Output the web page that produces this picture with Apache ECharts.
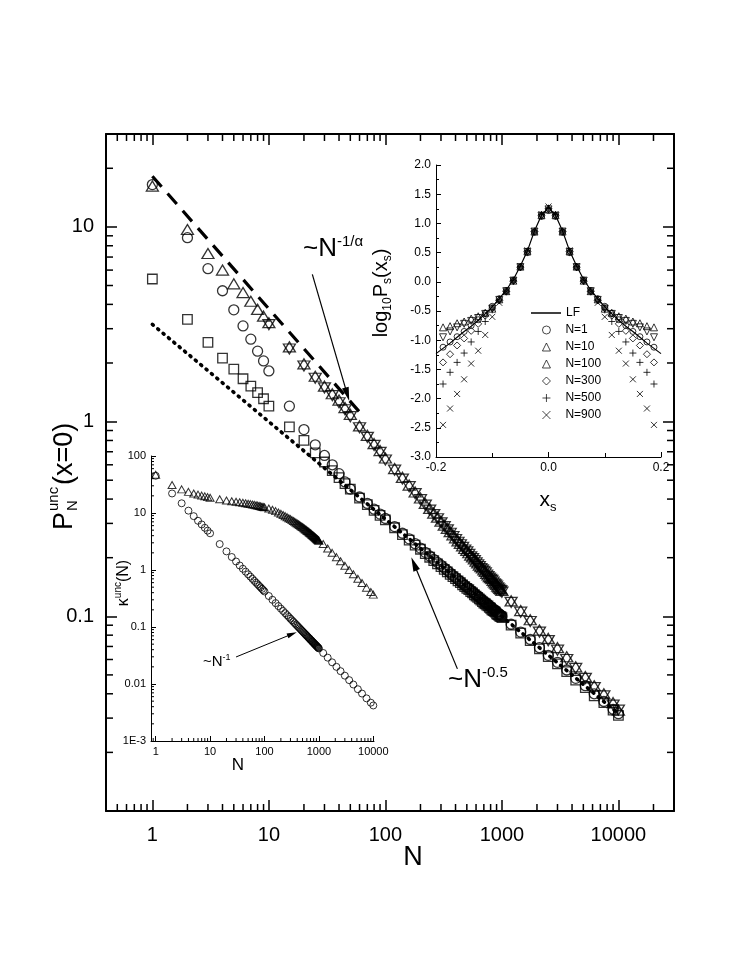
<!DOCTYPE html>
<html><head><meta charset="utf-8">
<script src="https://cdn.jsdelivr.net/npm/echarts@6/dist/echarts.min.js"></script>
<style>html,body{margin:0;padding:0;background:#fff}#c{width:733px;height:958px}</style>
</head><body><div id="c"></div>
<script>
// ---------------- MAIN PLOT DATA ----------------
const N_MAIN = [1,2,3,4,5,6,7,8,9,10,15,20,25,30,35,40,45,50,60,70,80,90,100,
 120,140,160,180,200,220,240,260,280,300,320,340,360,380,400,420,440,460,480,500,520,540,560,580,600,620,640,660,680,700,720,740,760,780,800,820,840,860,880,900,920,940,960,980,1000,
 1200,1450,1750,2100,2500,3000,3600,4300,5200,6200,7500,9000,10000];
const P_TRI_UP = [16.2,9.7,7.3,6.0,5.1,4.6,4.15,3.77,3.48,3.22,
 2.42,1.98,1.71,1.52,1.39,1.29,1.18,1.09,0.95,0.85,0.77,0.71,0.65,
 0.574,0.517,0.472,0.435,0.405,0.380,0.358,0.339,0.323,0.308,0.294,0.283,0.272,0.262,0.253,0.244,0.237,0.230,0.223,0.218,0.212,0.206,0.202,0.197,0.192,0.188,0.183,0.180,0.177,0.173,0.170,0.166,0.163,0.160,0.158,0.156,0.153,0.150,0.148,0.146,0.143,0.141,0.139,0.138,0.136,
 0.120,0.107,0.096,0.085,0.077,0.069,0.062,0.055,0.049,0.044,0.040,0.036,0.033];
const P_TRI_DOWN = [null,null,null,null,null,null,null,null,null,3.15,
 2.36,1.93,1.67,1.49,1.36,1.25,1.15,1.06,0.93,0.83,0.755,0.695,0.635,
 0.563,0.507,0.463,0.427,0.397,0.372,0.351,0.333,0.317,0.302,0.289,0.278,0.267,0.257,0.248,0.240,0.233,0.226,0.219,0.214,0.208,0.202,0.198,0.193,0.188,0.184,0.180,0.176,0.173,0.170,0.167,0.163,0.160,0.157,0.155,0.153,0.150,0.147,0.145,0.143,0.140,0.138,0.136,0.135,0.133,
 0.118,0.105,0.094,0.083,0.075,0.067,0.060,0.054,0.048,0.043,0.039,0.035,0.033];
const P_CIRCLE = [16.5,8.8,6.1,4.7,3.75,3.1,2.65,2.3,2.05,1.82,
 1.2,0.91,0.76,0.67,0.6,0.54,0.49,0.45,0.41,0.38,0.355,0.335,0.318,
 0.289,0.267,0.250,0.236,0.224,0.213,0.204,0.196,0.189,0.183,0.177,0.172,0.167,0.162,0.158,0.154,0.151,0.147,0.144,0.141,0.139,0.136,0.134,0.131,0.129,0.127,0.125,0.123,0.121,0.119,0.118,0.116,0.115,0.113,0.112,0.110,0.109,0.108,0.107,0.105,0.104,0.103,0.102,0.101,0.100,
 0.091,0.083,0.076,0.069,0.063,0.058,0.053,0.048,0.044,0.040,0.0365,0.0333,0.0316];
const P_SQUARE = [5.4,3.35,2.55,2.12,1.86,1.66,1.52,1.41,1.31,1.2,
 0.94,0.8,0.69,0.62,0.56,0.515,0.48,0.45,0.405,0.375,0.35,0.33,0.313,
 0.285,0.263,0.246,0.232,0.221,0.210,0.201,0.193,0.186,0.180,0.174,0.169,0.164,0.160,0.156,0.152,0.149,0.145,0.142,0.139,0.137,0.134,0.132,0.129,0.127,0.125,0.123,0.121,0.119,0.117,0.116,0.114,0.113,0.111,0.110,0.108,0.107,0.106,0.105,0.103,0.102,0.101,0.100,0.0995,0.0985,
 0.090,0.082,0.075,0.068,0.062,0.057,0.052,0.047,0.043,0.039,0.036,0.033,0.031];
// guide lines  ~N^-1/alpha (dashed) and ~N^-0.5 (dotted)
const GUIDE_ALPHA_N = [1, 60];
const GUIDE_ALPHA_P = [18.2, 1.12];
const GUIDE_HALF_N = [1, 10000];
const GUIDE_HALF_P = [3.16, 0.0316];
const MAIN_X_TICKS = [1,10,100,1000,10000];
const MAIN_X_LABELS = ['1','10','100','1000','10000'];
const MAIN_Y_TICKS = [0.01,0.1,1,10];
const MAIN_Y_LABELS = ['0.01','0.1','1','10'];

// ---------------- INSET 1 (log10 Ps vs xs) ----------------
const XS = [-0.1875,-0.175,-0.1625,-0.15,-0.1375,-0.125,-0.1125,-0.1,-0.0875,-0.075,-0.0625,-0.05,-0.0375,-0.025,-0.0125,0,
 0.0125,0.025,0.0375,0.05,0.0625,0.075,0.0875,0.1,0.1125,0.125,0.1375,0.15,0.1625,0.175,0.1875];
const XS_LF = [-0.2,-0.1875,-0.175,-0.1625,-0.15,-0.1375,-0.125,-0.1125,-0.1,-0.0875,-0.075,-0.0625,-0.05,-0.0375,-0.025,-0.0125,0,
 0.0125,0.025,0.0375,0.05,0.0625,0.075,0.0875,0.1,0.1125,0.125,0.1375,0.15,0.1625,0.175,0.1875,0.2];
const PS_LF = [-1.23,-1.14,-1.05,-0.95,-0.85,-0.76,-0.66,-0.55,-0.43,-0.29,-0.14,0.04,0.27,0.53,0.87,1.14,1.27,1.14,0.87,0.53,0.27,0.04,-0.14,-0.29,-0.43,-0.55,-0.66,-0.76,-0.85,-0.95,-1.05,-1.14,-1.23];
const PS_N1 = [-1.12,-1.03,-0.94,-0.85,-0.75,-0.65,-0.54,-0.42,-0.29,-0.15,0.03,0.25,0.50,0.85,1.12,1.22,1.12,0.85,0.50,0.25,0.03,-0.15,-0.29,-0.42,-0.54,-0.65,-0.75,-0.85,-0.94,-1.03,-1.12];
const PS_N10 = [-0.78,-0.76,-0.71,-0.68,-0.63,-0.59,-0.53,-0.46,-0.30,-0.16,0.02,0.26,0.52,0.86,1.14,1.24,1.14,0.86,0.52,0.26,0.02,-0.16,-0.30,-0.46,-0.53,-0.59,-0.63,-0.68,-0.71,-0.76,-0.78];
const PS_N100 = [-0.95,-0.85,-0.78,-0.72,-0.67,-0.62,-0.55,-0.46,-0.31,-0.16,0.02,0.25,0.51,0.86,1.13,1.24,1.13,0.86,0.51,0.25,0.02,-0.16,-0.31,-0.46,-0.55,-0.62,-0.67,-0.72,-0.78,-0.85,-0.95];
const PS_N300 = [-1.38,-1.24,-1.09,-0.97,-0.84,-0.72,-0.58,-0.45,-0.32,-0.17,0.01,0.25,0.52,0.86,1.14,1.25,1.14,0.86,0.52,0.25,0.01,-0.17,-0.32,-0.45,-0.58,-0.72,-0.84,-0.97,-1.09,-1.24,-1.38];
const PS_N500 = [-1.75,-1.55,-1.38,-1.22,-1.03,-0.85,-0.68,-0.48,-0.31,-0.16,0.02,0.26,0.53,0.87,1.15,1.26,1.15,0.87,0.53,0.26,0.02,-0.16,-0.31,-0.48,-0.68,-0.85,-1.03,-1.22,-1.38,-1.55,-1.75];
const PS_N900 = [-2.45,-2.17,-1.92,-1.67,-1.40,-1.18,-0.91,-0.60,-0.36,-0.17,0.02,0.27,0.54,0.87,1.16,1.29,1.16,0.87,0.54,0.27,0.02,-0.17,-0.36,-0.60,-0.91,-1.18,-1.40,-1.67,-1.92,-2.17,-2.45];
const INSET1_LINE_NAMES = ['LF'];
const INSET1_SYMBOL_NAMES = ['N=1','N=10','N=100','N=300','N=500','N=900'];

// ---------------- INSET 2 (kappa vs N) ----------------
const N_INSET = [1,2,3,4,5,6,7,8,9,10,15,20,25,30,35,40,45,50,55,60,65,70,75,80,85,90,95,100,
 120,140,160,180,200,220,240,260,280,300,320,340,360,380,400,420,440,460,480,500,520,540,560,580,600,620,640,660,680,700,720,740,760,780,800,820,840,860,880,900,920,940,960,980,1000,
 1200,1450,1750,2100,2500,3000,3600,4300,5200,6200,7500,9000,10000];
const K_TRI = [47,31,26,23.5,22,21,20.2,19.6,19,18.5,
 17.4,16.6,16.1,15.7,15.4,15.1,14.8,14.5,14.3,14.1,13.9,13.7,13.5,13.3,13.1,12.9,12.75,12.6,
 12.0,11.4,10.8,10.2,9.7,9.25,8.8,8.45,8.1,7.8,7.5,7.25,7.0,6.75,6.55,6.35,6.15,5.95,5.8,5.65,5.5,5.35,5.2,5.07,4.95,4.83,4.72,4.61,4.5,4.4,4.3,4.2,4.11,4.02,3.94,3.86,3.78,3.71,3.64,3.57,3.5,3.44,3.38,3.32,3.27,
 2.85,2.38,2.0,1.68,1.42,1.19,1.0,0.84,0.70,0.59,0.49,0.41,0.37];
const K_CIRCLE = [45,22,14.8,11,8.8,7.3,6.3,5.5,4.9,4.4,
 2.85,2.12,1.69,1.41,1.2,1.05,0.935,0.84,0.765,0.70,0.645,0.60,0.56,0.525,0.495,0.467,0.442,0.42,
 0.35,0.30,0.2625,0.233,0.21,0.191,0.175,0.1615,0.15,0.14,0.131,0.1235,0.1167,0.1105,0.105,0.1,0.0955,0.0913,0.0875,0.084,0.0808,0.0778,0.075,0.0724,0.07,0.0677,0.0656,0.0636,0.0618,0.06,0.0583,0.0568,0.0553,0.0538,0.0525,0.0512,0.05,0.0488,0.0477,0.0467,0.0457,0.0447,0.0438,0.0429,0.042,
 0.035,0.029,0.024,0.02,0.0168,0.014,0.0117,0.0098,0.0081,0.0068,0.0056,0.0047,0.0042];
const INSET_X_TICKS = [1,10,100,1000,10000];
const INSET_X_LABELS = ['1','10','100','1000','10000'];
const INSET_Y_TICKS = [0.001,0.01,0.1,1,10,100];
const INSET_Y_LABELS = ['1E-3','0.01','0.1','1','10','100'];
const MINOR_MULT = [2,3,4,5,6,7,8,9];

// ---------------- helpers ----------------
const FONT = '"Liberation Sans", Arial, Helvetica, sans-serif';
function zip(xs, ys) { const out = []; const n = Math.min(xs.length, ys.length);
  for (let i = 0; i < n; i++) if (ys[i] != null) out.push([xs[i], ys[i]]); return out; }
function labelFmt(ticks, labels) { return function (v) {
  for (let i = 0; i < ticks.length; i++) if (Math.abs(v - ticks[i]) <= ticks[i] * 1e-6) return labels[i];
  return ''; }; }
function minorVals(lo, hi) { const out = [];
  for (let e = -4; e <= 5; e++) for (const m of MINOR_MULT) { const v = m * Math.pow(10, e);
    if (v > lo * 1.0001 && v < hi * 0.9999) out.push(v); }
  return out; }
function minorTicks(xi, yi, vals, orient, len, xr, yr, both, w) {
  return { type: 'custom', xAxisIndex: xi, yAxisIndex: yi, silent: true, z: 6, clip: false,
    data: vals.map(v => orient === 'x' ? [v, yr[0]] : [xr[0], v]),
    renderItem: function (params, api) {
      const kids = []; const st = { stroke: '#000', lineWidth: w };
      if (orient === 'x') { const v = api.value(0);
        const b = api.coord([v, yr[0]]);
        kids.push({ type: 'line', shape: { x1: b[0], y1: b[1], x2: b[0], y2: b[1] - len }, style: st });
        if (both) { const t = api.coord([v, yr[1]]);
          kids.push({ type: 'line', shape: { x1: t[0], y1: t[1], x2: t[0], y2: t[1] + len }, style: st }); }
      } else { const v = api.value(1);
        const l = api.coord([xr[0], v]);
        kids.push({ type: 'line', shape: { x1: l[0], y1: l[1], x2: l[0] + len, y2: l[1] }, style: st });
        if (both) { const r = api.coord([xr[1], v]);
          kids.push({ type: 'line', shape: { x1: r[0], y1: r[1], x2: r[0] - len, y2: r[1] }, style: st }); }
      }
      return { type: 'group', children: kids };
    } };
}
const OPEN = (bw) => ({ color: 'rgba(0,0,0,0)', borderColor: '#000', borderWidth: bw });
const PLUS = 'path://M0,5L10,5M5,0L5,10';
const CROSS = 'path://M0,0L10,10M10,0L0,10';

const MX = [0.4, 30000], MY = [0.01, 30];
const IX = [0.82, 10300], IY = [0.001, 100];

function logAxis(grid, pos, range, ticks, labels, showLabel, fs, margin, tickLen, lw, showEnds) {
  return { type: 'log', logBase: 10, gridIndex: grid, position: pos, min: range[0], max: range[1],
    axisLine: { show: true, lineStyle: { color: '#000', width: lw } },
    axisTick: { show: true, inside: true, length: tickLen, lineStyle: { color: '#000', width: lw > 1.5 ? 1.5 : 1 } },
    minorTick: { show: false }, splitLine: { show: false },
    axisLabel: { show: showLabel, formatter: labelFmt(ticks, labels), showMinLabel: !!showEnds, showMaxLabel: !!showEnds,
      fontSize: fs, color: '#000', margin: margin, fontFamily: FONT, hideOverlap: false } };
}

const chart = echarts.init(document.getElementById('c'), null, { renderer: 'canvas' });
const option = {
  animation: false,
  backgroundColor: '#fff',
  textStyle: { fontFamily: FONT, color: '#000' },
  grid: [
    { left: 106, top: 134, width: 568, height: 677, outerBoundsMode: 'none', containLabel: false },
    { left: 436, top: 165, width: 225, height: 292, outerBoundsMode: 'none', containLabel: false },
    { left: 151, top: 456, width: 223, height: 285, outerBoundsMode: 'none', containLabel: false }
  ],
  xAxis: [
    logAxis(0, 'bottom', MX, MAIN_X_TICKS, MAIN_X_LABELS, true, 20, 14, 11, 2, false),
    logAxis(0, 'top', MX, MAIN_X_TICKS, MAIN_X_LABELS, false, 20, 14, 11, 2, false),
    { type: 'value', gridIndex: 1, position: 'bottom', min: -0.2, max: 0.2, interval: 0.2,
      axisLine: { show: true, onZero: false, lineStyle: { color: '#000', width: 1 } },
      axisTick: { show: true, inside: true, length: 5, lineStyle: { color: '#000' } },
      minorTick: { show: true, splitNumber: 2, length: 4, lineStyle: { color: '#000' } },
      splitLine: { show: false },
      axisLabel: { fontSize: 12, color: '#000', margin: 5, formatter: v => v.toFixed(1), fontFamily: FONT } },
    logAxis(2, 'bottom', IX, INSET_X_TICKS, INSET_X_LABELS, true, 11, 5, 5, 1, false)
  ],
  yAxis: [
    logAxis(0, 'left', MY, MAIN_Y_TICKS, MAIN_Y_LABELS, true, 20, 12, 11, 2, false),
    logAxis(0, 'right', MY, MAIN_Y_TICKS, MAIN_Y_LABELS, false, 20, 12, 11, 2, false),
    { type: 'value', gridIndex: 1, position: 'left', min: -3, max: 2, interval: 0.5,
      axisLine: { show: true, onZero: false, lineStyle: { color: '#000', width: 1 } },
      axisTick: { show: true, inside: true, length: 5, lineStyle: { color: '#000' } },
      minorTick: { show: true, splitNumber: 2, length: 3, lineStyle: { color: '#000' } },
      splitLine: { show: false },
      axisLabel: { fontSize: 12, color: '#000', margin: 5, formatter: v => v.toFixed(1), fontFamily: FONT } },
    logAxis(2, 'left', IY, INSET_Y_TICKS, INSET_Y_LABELS, true, 11, 5, 5, 1, true)
  ],
  legend: [
    { data: INSET1_LINE_NAMES, orient: 'vertical', left: 526, top: 301, itemWidth: 30, itemHeight: 1.5, icon: 'rect',
      selectedMode: false, itemStyle: { color: '#000', borderWidth: 0 },
      textStyle: { fontSize: 12, color: '#000', fontFamily: FONT, lineHeight: 14 } },
    { data: INSET1_SYMBOL_NAMES, orient: 'vertical', left: 537, top: 318, itemWidth: 8, itemHeight: 8, itemGap: 3,
      selectedMode: false, symbolKeepAspect: true, itemStyle: { borderWidth: 0.9 },
      textStyle: { fontSize: 12, color: '#000', fontFamily: FONT, lineHeight: 14, padding: [0, 0, 0, 10] } }
  ],
  series: [
    // main plot
    { type: 'line', xAxisIndex: 0, yAxisIndex: 0, data: zip(GUIDE_ALPHA_N, GUIDE_ALPHA_P), symbol: 'none', silent: true,
      lineStyle: { color: '#000', width: 3.2, type: [14, 9], cap: 'butt' }, z: 2 },
    { type: 'line', xAxisIndex: 0, yAxisIndex: 0, data: zip(GUIDE_HALF_N, GUIDE_HALF_P), symbol: 'none', silent: true,
      lineStyle: { color: '#000', width: 3.6, type: [1.2, 5.8], cap: 'round' }, z: 2,
      markLine: { silent: true, animation: false, symbol: ['none', 'triangle'], label: { show: false },
        lineStyle: { color: '#000', width: 1.2, type: 'solid' },
        data: [
          [{ coord: [23.6, 5.7], symbol: 'none' }, { coord: [47.1, 1.38], symbol: 'triangle', symbolSize: [7, 14] }],
          [{ coord: [415, 0.0537], symbol: 'none' }, { coord: [176, 0.186], symbol: 'triangle', symbolSize: [7, 14] }]
        ] } },
    { type: 'scatter', xAxisIndex: 0, yAxisIndex: 0, data: zip(N_MAIN, P_SQUARE), symbol: 'rect', symbolSize: 9.5,
      itemStyle: OPEN(1.3), silent: true, z: 3 },
    { type: 'scatter', xAxisIndex: 0, yAxisIndex: 0, data: zip(N_MAIN, P_CIRCLE), symbol: 'circle', symbolSize: 10,
      itemStyle: OPEN(1.3), silent: true, z: 3 },
    { type: 'scatter', xAxisIndex: 0, yAxisIndex: 0, data: zip(N_MAIN, P_TRI_DOWN), symbol: 'triangle', symbolRotate: 180, symbolSize: [12, 10],
      itemStyle: OPEN(1.3), silent: true, z: 3 },
    { type: 'scatter', xAxisIndex: 0, yAxisIndex: 0, data: zip(N_MAIN, P_TRI_UP), symbol: 'triangle', symbolSize: [12, 10],
      itemStyle: OPEN(1.3), silent: true, z: 3 },
    // inset 1
    { name: 'LF', type: 'line', xAxisIndex: 2, yAxisIndex: 2, data: zip(XS_LF, PS_LF), symbol: 'none', silent: true,
      lineStyle: { color: '#000', width: 1.2 }, itemStyle: { color: '#000' }, z: 4 },
    { name: 'N=1', type: 'scatter', xAxisIndex: 2, yAxisIndex: 2, data: zip(XS, PS_N1), symbol: 'circle', symbolSize: 6, itemStyle: OPEN(1), silent: true, z: 4 },
    { name: 'N=10', type: 'scatter', xAxisIndex: 2, yAxisIndex: 2, data: zip(XS, PS_N10), symbol: 'triangle', symbolSize: 7, itemStyle: OPEN(1), silent: true, z: 4 },
    { name: 'N=100', type: 'scatter', xAxisIndex: 2, yAxisIndex: 2, data: zip(XS, PS_N100), symbol: 'triangle', symbolRotate: 180, symbolSize: 7, itemStyle: OPEN(1), silent: true, z: 4 },
    { name: 'N=300', type: 'scatter', xAxisIndex: 2, yAxisIndex: 2, data: zip(XS, PS_N300), symbol: 'diamond', symbolSize: 7, itemStyle: OPEN(1), silent: true, z: 4 },
    { name: 'N=500', type: 'scatter', xAxisIndex: 2, yAxisIndex: 2, data: zip(XS, PS_N500), symbol: PLUS, symbolSize: 7, itemStyle: OPEN(1), silent: true, z: 4 },
    { name: 'N=900', type: 'scatter', xAxisIndex: 2, yAxisIndex: 2, data: zip(XS, PS_N900), symbol: CROSS, symbolSize: 6, itemStyle: OPEN(1), silent: true, z: 4 },
    // inset 2
    { type: 'scatter', xAxisIndex: 3, yAxisIndex: 3, data: zip(N_INSET, K_TRI), symbol: 'triangle', symbolSize: [8, 7], itemStyle: OPEN(1), silent: true, z: 4 },
    { type: 'scatter', xAxisIndex: 3, yAxisIndex: 3, data: zip(N_INSET, K_CIRCLE), symbol: 'circle', symbolSize: 7, itemStyle: OPEN(1), silent: true, z: 4,
      markLine: { silent: true, animation: false, symbol: ['none', 'triangle'], label: { show: false },
        lineStyle: { color: '#000', width: 1, type: 'solid' },
        data: [[{ coord: [30, 0.0298], symbol: 'none' }, { coord: [322, 0.0753], symbol: 'triangle', symbolSize: [5, 10] }]] } },
    // minor ticks
    minorTicks(0, 0, minorVals(MX[0], MX[1]), 'x', 7, MX, MY, true, 1.5),
    minorTicks(0, 0, minorVals(MY[0], MY[1]), 'y', 7, MX, MY, true, 1.5),
    minorTicks(3, 3, minorVals(IX[0], IX[1]), 'x', 3, IX, IY, false, 1),
    minorTicks(3, 3, minorVals(IY[0], IY[1]), 'y', 3, IX, IY, false, 1)
  ],
  graphic: [
    // main y title P_N^unc(x=0)
    { type: 'group', x: 65, y: 468, rotation: Math.PI / 2, silent: true, children: [
      { type: 'text', x: -62, y: 0, style: { text: 'P', font: '27px ' + FONT, fill: '#000', align: 'left', verticalAlign: 'middle', textAlign: 'left', textVerticalAlign: 'middle' } },
      { type: 'text', x: -43, y: 8, style: { text: 'N', font: '15px ' + FONT, fill: '#000', align: 'left', verticalAlign: 'middle', textAlign: 'left', textVerticalAlign: 'middle' } },
      { type: 'text', x: -43, y: -11, style: { text: 'unc', font: '15px ' + FONT, fill: '#000', align: 'left', verticalAlign: 'middle', textAlign: 'left', textVerticalAlign: 'middle' } },
      { type: 'text', x: -17, y: 0, style: { text: '(x=0)', font: '27px ' + FONT, fill: '#000', align: 'left', verticalAlign: 'middle', textAlign: 'left', textVerticalAlign: 'middle' } }
    ] },
    // main x title
    { type: 'text', x: 413, y: 858, silent: true, style: { text: 'N', font: '27px ' + FONT, fill: '#000', align: 'center', verticalAlign: 'middle', textAlign: 'center', textVerticalAlign: 'middle' } },
    // annotations
    { type: 'text', x: 303, y: 249, silent: true, style: { text: '{m|~N}{s|-1/α}', fill: '#000', align: 'left', verticalAlign: 'middle', textAlign: 'left', textVerticalAlign: 'middle',
      rich: { m: { font: '26px ' + FONT, lineHeight: 30, verticalAlign: 'middle' }, s: { font: '15px ' + FONT, lineHeight: 15, verticalAlign: 'top' } } } },
    { type: 'text', x: 448, y: 680, silent: true, style: { text: '{m|~N}{s|-0.5}', fill: '#000', align: 'left', verticalAlign: 'middle', textAlign: 'left', textVerticalAlign: 'middle',
      rich: { m: { font: '26px ' + FONT, lineHeight: 30, verticalAlign: 'middle' }, s: { font: '15px ' + FONT, lineHeight: 15, verticalAlign: 'top' } } } },
    // inset 1 titles
    { type: 'text', x: 548, y: 500, silent: true, style: { text: '{m|x}{b|s}', fill: '#000', align: 'center', verticalAlign: 'middle', textAlign: 'center', textVerticalAlign: 'middle',
      rich: { m: { font: '21px ' + FONT, lineHeight: 28, verticalAlign: 'middle' }, b: { font: '13px ' + FONT, lineHeight: 13, verticalAlign: 'bottom' } } } },
    { type: 'text', x: 381, y: 293, rotation: Math.PI / 2, silent: true, style: { text: '{m|log}{b|10}{m|P}{b|s}{m|(x}{b|s}{m|)}', fill: '#000', align: 'center', verticalAlign: 'middle', textAlign: 'center', textVerticalAlign: 'middle',
      rich: { m: { font: '20px ' + FONT, lineHeight: 26, verticalAlign: 'middle' }, b: { font: '12px ' + FONT, lineHeight: 12, verticalAlign: 'bottom' } } } },
    // inset 2 titles
    { type: 'text', x: 238, y: 765, silent: true, style: { text: 'N', font: '17px ' + FONT, fill: '#000', align: 'center', verticalAlign: 'middle', textAlign: 'center', textVerticalAlign: 'middle' } },
    { type: 'text', x: 124, y: 583, rotation: Math.PI / 2, silent: true, style: { text: '{m|κ}{t|unc}{m|(N)}', fill: '#000', align: 'center', verticalAlign: 'middle', textAlign: 'center', textVerticalAlign: 'middle',
      rich: { m: { font: '16px ' + FONT, lineHeight: 22, verticalAlign: 'middle' }, t: { font: '10px ' + FONT, lineHeight: 10, verticalAlign: 'top' } } } },
    { type: 'text', x: 203, y: 662, silent: true, style: { text: '{m|~N}{t|-1}', fill: '#000', align: 'left', verticalAlign: 'middle', textAlign: 'left', textVerticalAlign: 'middle',
      rich: { m: { font: '15px ' + FONT, lineHeight: 18, verticalAlign: 'middle' }, t: { font: '9px ' + FONT, lineHeight: 9, verticalAlign: 'top' } } } }
  ]
};
chart.setOption(option);
</script></body></html>
